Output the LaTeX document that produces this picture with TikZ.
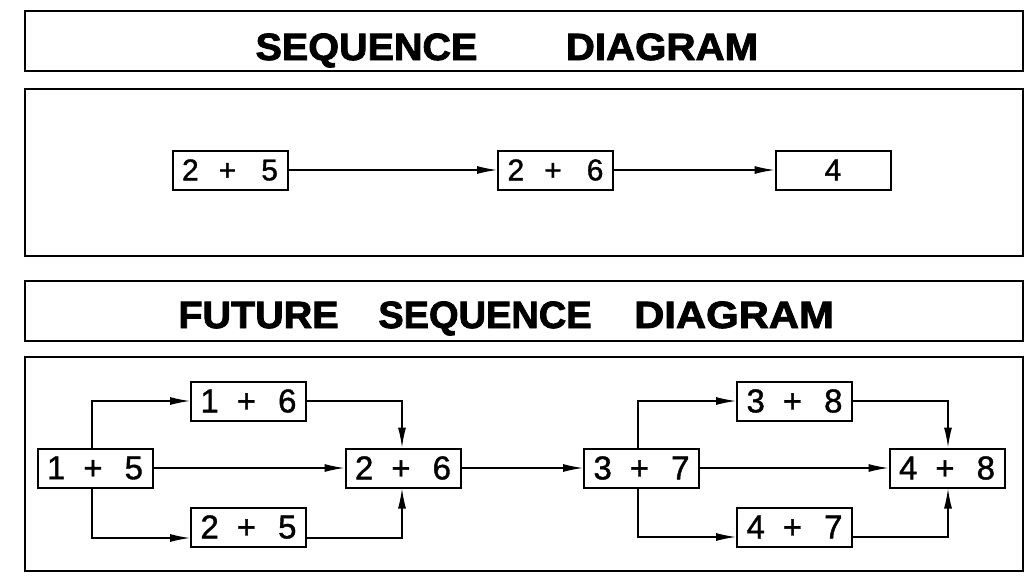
\documentclass[tikz,border=0pt]{standalone}
\usepackage{fontspec}
\setmainfont{Liberation Sans}
\newfontfamily\titlefont[FakeBold=2.2]{Liberation Sans Bold}
\newfontfamily\digitfont[FakeBold=1.2]{Liberation Sans}
\usetikzlibrary{arrows.meta}
\begin{document}
\begin{tikzpicture}[x=1pt,y=-1pt,
  frame/.style={draw,line width=2.2pt},
  box/.style={draw,line width=2pt,minimum width=115pt,minimum height=39pt,inner sep=0pt},
  bigbox/.style={box,font=\digitfont\fontsize{33}{33}\selectfont},
  smallbox/.style={box,font=\digitfont\fontsize{30}{30}\selectfont},
  title/.style={font=\titlefont\fontsize{38}{38}\selectfont,anchor=base,inner sep=0pt},
  conn/.style={line width=1.3pt,-{Latex[length=20pt,width=8pt]}}
]
\newcommand{\expr}[2]{#1\hspace{18pt}+\hspace{22pt}#2}
\newcommand{\exprs}[2]{#1\hspace{20pt}+\hspace{25pt}#2}
\useasboundingbox (0,0) rectangle (1033,578);
% frames
\draw[frame] (25,11) rectangle (1023,71);
\draw[frame] (25,89) rectangle (1023,256);
\draw[frame] (25,281) rectangle (1023,341);
\draw[frame] (25,357) rectangle (1023,571);
% titles
\node[title] (t1a) at (366.5,60) {\scalebox{1.04}[1]{SEQUENCE}};
\node[title] (t1b) at (662,60) {\scalebox{1.06}[1]{DIAGRAM}};
\node[title] (t2a) at (258.5,328) {\scalebox{1.04}[1]{FUTURE}};
\node[title] (t2b) at (485,328) {\scalebox{1.0}[1]{SEQUENCE}};
\node[title] (t2c) at (734,328) {\scalebox{1.1}[1]{DIAGRAM}};
% top sequence
\node[smallbox] (n25) at (230,170) {\exprs{2}{5}};
\node[smallbox] (n26) at (555.5,170) {\exprs{2}{6}};
\node[smallbox] (n4) at (833,170) {4};
\draw[conn] (n25.east) -- (n26.west);
\draw[conn] (n26.east) -- (n4.west);
% future sequence
\node[bigbox] (a15) at (95,468) {\expr{1}{5}};
\node[bigbox] (a16) at (248.5,401) {\expr{1}{6}};
\node[bigbox] (a25) at (248.5,527) {\expr{2}{5}};
\node[bigbox] (a26) at (403,468) {\expr{2}{6}};
\node[bigbox] (b37) at (641.5,468) {\expr{3}{7}};
\node[bigbox] (b38) at (794.5,401) {\expr{3}{8}};
\node[bigbox] (b47) at (794.5,527) {\expr{4}{7}};
\node[bigbox] (b48) at (947,468) {\expr{4}{8}};
\coordinate (bl) at (92,468);
\coordinate (jl) at (402,468);
\coordinate (br) at (638,468);
\coordinate (jr) at (948,468);
\draw[conn] (a15.north -| bl) |- (a16.west);
\draw[conn] (a15.south -| bl) |- ([yshift=-11pt]a25.west);
\draw[conn] (a15.east) -- (a26.west);
\draw[conn] (a16.east) -| (a26.north -| jl);
\draw[conn] ([yshift=-11pt]a25.east) -| (a26.south -| jl);
\draw[conn] (a26.east) -- (b37.west);
\draw[conn] (b37.north -| br) |- (b38.west);
\draw[conn] (b37.south -| br) |- ([yshift=-10pt]b47.west);
\draw[conn] (b37.east) -- (b48.west);
\draw[conn] (b38.east) -| (b48.north -| jr);
\draw[conn] ([yshift=-10pt]b47.east) -| (b48.south -| jr);
\end{tikzpicture}
\end{document}
